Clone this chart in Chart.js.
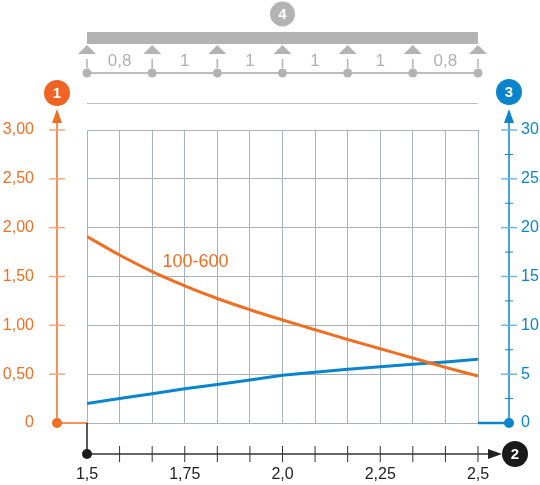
<!DOCTYPE html>
<html>
<head>
<meta charset="utf-8">
<script src="https://cdn.jsdelivr.net/npm/chart.js@4.4.1/dist/chart.umd.min.js"></script>
<style>
  html, body { margin: 0; padding: 0; background: #fff; }
  canvas { display: block; }
</style>
</head>
<body>
<canvas id="myChart" width="540" height="485"></canvas>
<script>
// span lengths (x axis)
var spans = [1.5, 1.5833, 1.6667, 1.75, 1.8333, 1.9167, 2.0, 2.0833, 2.1667, 2.25, 2.3333, 2.4167, 2.5]
// load (left axis)
var load = [1.91, 1.72, 1.55, 1.405, 1.275, 1.16, 1.055, 0.955, 0.855, 0.76, 0.665, 0.57, 0.48]
// deflection (right axis)
var deflection = [2.0, 2.5, 3.0, 3.5, 3.95, 4.4, 4.88, 5.19, 5.5, 5.77, 6.01, 6.25, 6.52]

var xTickValues = [1.5, 1.75, 2.0, 2.25, 2.5]
var xTickLabels = ['1,5', '1,75', '2,0', '2,25', '2,5']
var leftTickValues = [0, 0.5, 1, 1.5, 2, 2.5, 3]
var leftTickLabels = ['0', '0,50', '1,00', '1,50', '2,00', '2,50', '3,00']
var rightTickValues = [0, 5, 10, 15, 20, 25, 30]
var rightTickLabels = ['0', '5', '10', '15', '20', '25', '30']
var rightMinorTicks = [2.5, 7.5, 12.5, 17.5, 22.5, 27.5]

var supportValues = [1.5, 1.6667, 1.8333, 2.0, 2.1667, 2.3333, 2.5]
var spanLabels = ['0,8', '1', '1', '1', '1', '0,8']

var curveLabel = '100-600'

var ORANGE = '#ef6f22'
var BLUE = '#0a85cc'
var GREY = '#b3b3b3'
var FONT = '"Liberation Sans", Arial, sans-serif'

function badge(ctx, x, y, r, color, text) {
  ctx.beginPath()
  ctx.arc(x, y, r, 0, Math.PI * 2)
  ctx.fillStyle = color
  ctx.fill()
  ctx.fillStyle = '#fff'
  ctx.font = 'bold 15px ' + FONT
  ctx.textAlign = 'center'
  ctx.textBaseline = 'middle'
  ctx.fillText(text, x, y + 1)
}

function dot(ctx, x, y, r, color) {
  ctx.beginPath()
  ctx.arc(x, y, r, 0, Math.PI * 2)
  ctx.fillStyle = color
  ctx.fill()
}

function line(ctx, x1, y1, x2, y2, color, w) {
  ctx.beginPath()
  ctx.moveTo(x1, y1)
  ctx.lineTo(x2, y2)
  ctx.strokeStyle = color
  ctx.lineWidth = w
  ctx.stroke()
}

function tri(ctx, pts, color) {
  ctx.beginPath()
  ctx.moveTo(pts[0], pts[1])
  ctx.lineTo(pts[2], pts[3])
  ctx.lineTo(pts[4], pts[5])
  ctx.closePath()
  ctx.fillStyle = color
  ctx.fill()
}

var decorations = {
  id: 'decorations',
  afterDraw: function(chart) {
    var ctx = chart.ctx
    var a = chart.chartArea
    var xs = chart.scales.x, ys = chart.scales.y, y2s = chart.scales.y2
    var y0 = ys.getPixelForValue(0)
    ctx.save()

    // --- beam diagram on top ---
    var beamLeft = xs.getPixelForValue(supportValues[0])
    var beamRight = xs.getPixelForValue(supportValues[supportValues.length - 1])
    ctx.fillStyle = GREY
    ctx.fillRect(beamLeft, 32, beamRight - beamLeft, 12)
    line(ctx, beamLeft, 73, beamRight, 73, '#bdbdbd', 2)
    supportValues.forEach(function(v) {
      var px = xs.getPixelForValue(v)
      tri(ctx, [px, 45, px - 9, 54, px + 9, 54], GREY)
      line(ctx, px, 59, px, 68, GREY, 1.5)
      dot(ctx, px, 73, 4.5, GREY)
    })
    ctx.font = '17px ' + FONT
    ctx.fillStyle = '#b0b0b0'
    ctx.textAlign = 'center'
    ctx.textBaseline = 'middle'
    spanLabels.forEach(function(t, i) {
      var px = (xs.getPixelForValue(supportValues[i]) + xs.getPixelForValue(supportValues[i + 1])) / 2
      ctx.fillText(t, px, 61)
    })
    badge(ctx, (beamLeft + beamRight) / 2, 14, 12.5, GREY, '4')
    line(ctx, beamLeft, 103.5, beamRight, 103.5, '#bdbdbd', 1)

    // --- left axis (orange) ---
    var lx = a.left - 30
    line(ctx, lx, y0, lx, 120, ORANGE, 1.5)
    tri(ctx, [lx, 109, lx - 5, 123, lx + 5, 123], ORANGE)
    line(ctx, lx, y0, a.left, y0, ORANGE, 1.5)
    dot(ctx, lx, y0, 5, ORANGE)
    ctx.font = '16px ' + FONT
    ctx.textAlign = 'right'
    ctx.textBaseline = 'middle'
    leftTickValues.forEach(function(v, i) {
      var py = ys.getPixelForValue(v)
      if (v > 0) line(ctx, lx - 8, py, lx + 8, py, '#f5a77a', 1.5)
      ctx.fillStyle = ORANGE
      ctx.fillText(leftTickLabels[i], 34, py)
    })
    badge(ctx, lx, 93, 13, '#f06322', '1')

    // --- right axis (blue) ---
    var rx = a.right + 31
    line(ctx, rx, y0, rx, 120, BLUE, 1.5)
    tri(ctx, [rx, 109, rx - 5, 123, rx + 5, 123], BLUE)
    line(ctx, a.right, y0, rx, y0, BLUE, 2.5)
    dot(ctx, rx, y0, 5, BLUE)
    ctx.font = '16px ' + FONT
    ctx.textAlign = 'left'
    ctx.textBaseline = 'middle'
    rightTickValues.forEach(function(v, i) {
      var py = y2s.getPixelForValue(v)
      if (v > 0) line(ctx, rx - 8, py, rx + 8, py, '#6cb8e6', 1.5)
      ctx.fillStyle = BLUE
      ctx.fillText(rightTickLabels[i], rx + 12, py)
    })
    rightMinorTicks.forEach(function(v) {
      var py = y2s.getPixelForValue(v)
      line(ctx, rx - 4, py, rx + 4, py, BLUE, 1)
    })
    badge(ctx, rx, 92, 13, BLUE, '3')

    // --- bottom axis (black) ---
    var by = y0 + 31
    line(ctx, a.left, y0, a.left, by, '#222', 1.5)
    line(ctx, a.left, by, 492, by, '#333', 1.5)
    tri(ctx, [502, by, 488, by - 5, 488, by + 5], '#222')
    spans.forEach(function(v, i) {
      if (i === 0) return
      var px = xs.getPixelForValue(v)
      line(ctx, px, by - 8, px, by + 8, '#333', 1)
    })
    dot(ctx, a.left, by, 5, '#1a1a1a')
    ctx.font = '16px ' + FONT
    ctx.fillStyle = '#222'
    ctx.textAlign = 'center'
    ctx.textBaseline = 'middle'
    xTickValues.forEach(function(v, i) {
      ctx.fillText(xTickLabels[i], xs.getPixelForValue(v), by + 21)
    })
    badge(ctx, 515, by, 13, '#1a1a1a', '2')

    // curve label
    ctx.font = '18px ' + FONT
    ctx.fillStyle = ORANGE
    ctx.textAlign = 'left'
    ctx.textBaseline = 'middle'
    ctx.fillText(curveLabel, xs.getPixelForValue(1.693), ys.getPixelForValue(1.65))

    ctx.restore()
  }
}

var chart = new Chart(document.getElementById('myChart').getContext('2d'), {
  type: 'line',
  data: {
    labels: spans,
    datasets: [
      {
        label: 'load',
        data: spans.map(function(x, i) { return { x: x, y: load[i] } }),
        borderColor: ORANGE,
        borderWidth: 3,
        pointRadius: 0,
        tension: 0.4,
        yAxisID: 'y'
      },
      {
        label: 'deflection',
        data: spans.map(function(x, i) { return { x: x, y: deflection[i] } }),
        borderColor: BLUE,
        borderWidth: 3,
        pointRadius: 0,
        tension: 0,
        yAxisID: 'y2'
      }
    ]
  },
  options: {
    responsive: false,
    animation: false,
    layout: { padding: { left: 87, right: 62, top: 130, bottom: 62 } },
    plugins: { legend: { display: false }, tooltip: { enabled: false } },
    scales: {
      x: {
        type: 'linear',
        min: 1.5,
        max: 2.5,
        afterBuildTicks: function(scale) {
          scale.ticks = spans.map(function(v) { return { value: v } })
        },
        ticks: { display: false },
        grid: { color: '#a9b1b9', lineWidth: 1, drawTicks: false },
        border: { display: false }
      },
      y: {
        min: 0,
        max: 3,
        afterBuildTicks: function(scale) {
          scale.ticks = leftTickValues.map(function(v) { return { value: v } })
        },
        ticks: { display: false },
        grid: { color: '#a9b1b9', lineWidth: 1, drawTicks: false },
        border: { display: false }
      },
      y2: {
        position: 'right',
        min: 0,
        max: 30,
        ticks: { display: false },
        grid: { display: false, drawTicks: false },
        border: { display: false }
      }
    }
  },
  plugins: [decorations]
})
</script>
</body>
</html>
